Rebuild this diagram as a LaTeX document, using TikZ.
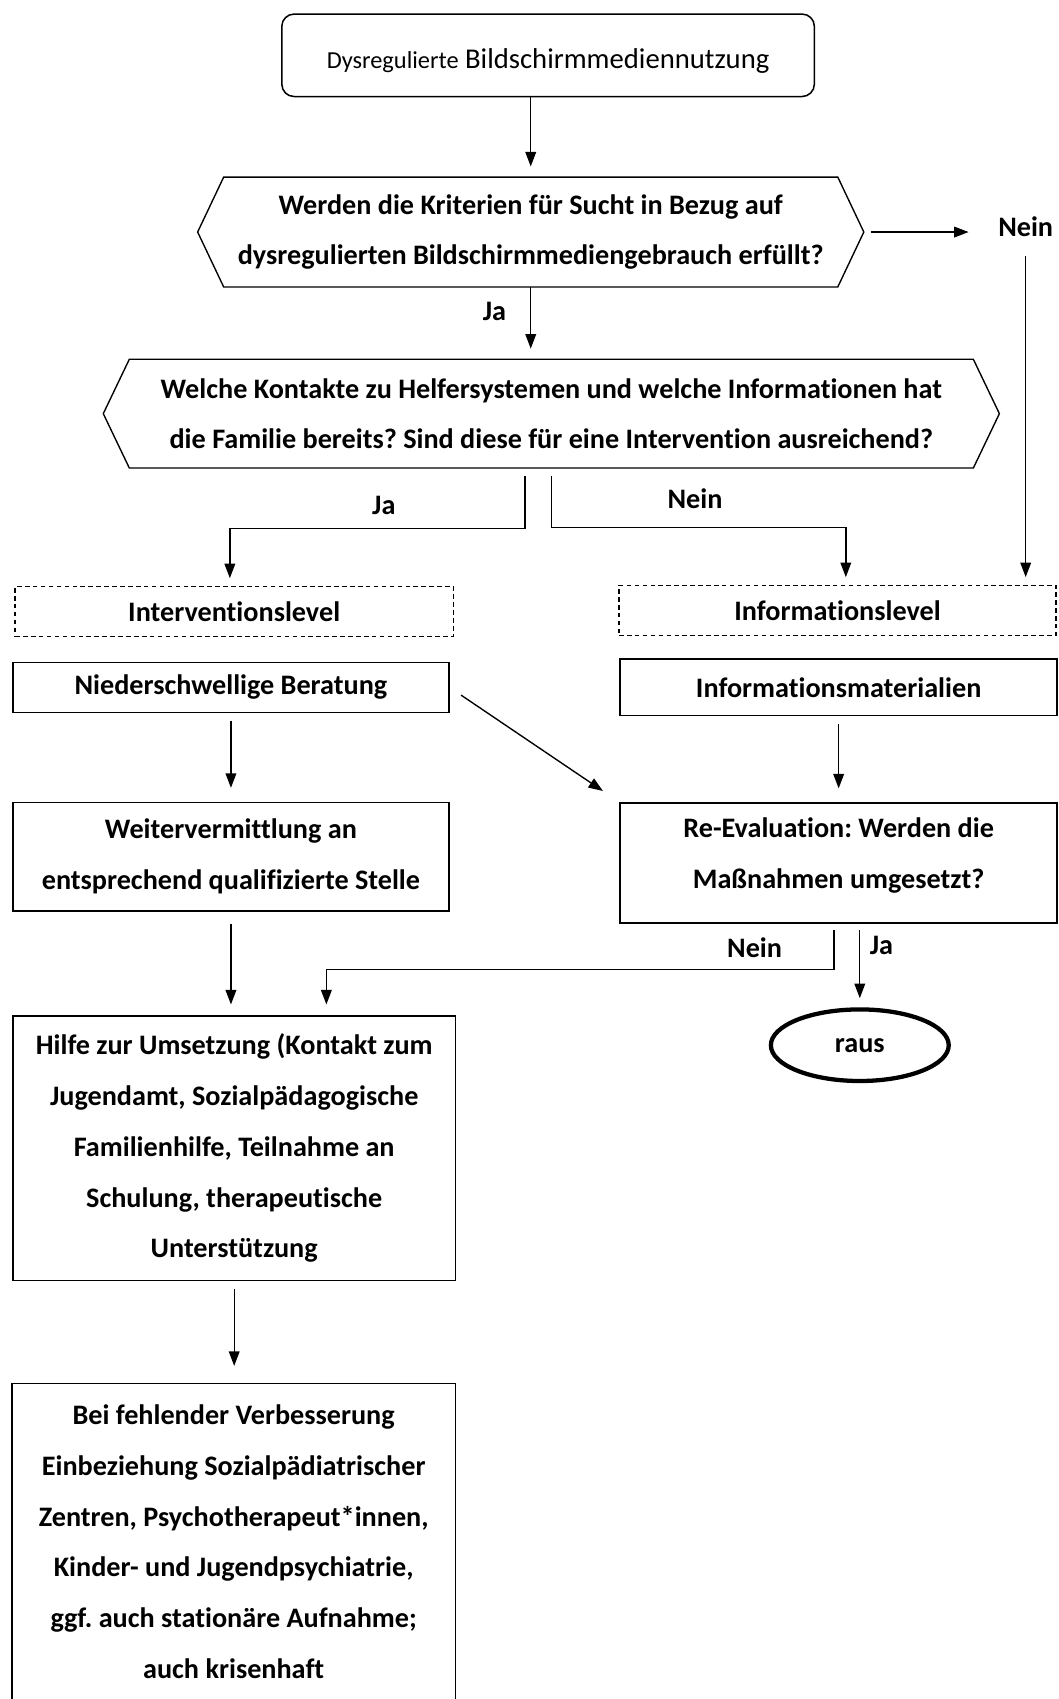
\documentclass[tikz,border=0pt]{standalone}
\usepackage{fontspec}
\setmainfont[Ligatures=NoCommon]{Carlito}
\frenchspacing
\usetikzlibrary{arrows.meta,shapes.geometric,positioning}

\begin{document}
\begin{tikzpicture}[x=0.025cm,y=-0.025cm,>={Triangle[length=9.5pt,width=7pt]},
		line width=0.9pt,font=\bfseries\fontsize{18.5}{33.3}\selectfont]
		\tikzstyle{box}=[draw,align=center,inner sep=0pt,line width=1pt]
		\tikzstyle{dashbox}=[box,dash pattern=on 3pt off 2.2pt]
		\tikzstyle{hexa}=[align=center,inner sep=0pt]
		\tikzstyle{lbl}=[inner sep=2pt]
		\tikzstyle{link}=[->,shorten <=5pt,shorten >=7pt]
		\useasboundingbox (0,0) rectangle (976,1567);
		% top
		\node[box,rounded corners=8pt,minimum width=12.275cm,minimum height=1.9cm,
			font=\mdseries\fontsize{18.8}{22}\selectfont] (start) at (505.5,51)
			{\rule{0pt}{21pt}{\fontsize{16}{22}\selectfont Dysregulierte} Bildschirmmediennutzung};
		\node[hexa,minimum width=15.325cm,minimum height=2.5cm] (q1) at (489.5,214)
			{Werden die Kriterien für Sucht in Bezug auf\\dysregulierten Bildschirmmediengebrauch erfüllt?};
		\node[hexa,minimum width=20.625cm,minimum height=2.475cm] (q2) at (508.5,381.5)
			{Welche Kontakte zu Helfersystemen und welche Informationen hat\\die Familie bereits? Sind diese für eine Intervention ausreichend?};
		\draw (q1.west) -- ([xshift=0.6cm]q1.north west) -- ([xshift=-0.6cm]q1.north east) -- (q1.east)
			-- ([xshift=-0.6cm]q1.south east) -- ([xshift=0.6cm]q1.south west) -- cycle;
		\draw (q2.west) -- ([xshift=0.6cm]q2.north west) -- ([xshift=-0.6cm]q2.north east) -- (q2.east)
			-- ([xshift=-0.6cm]q2.south east) -- ([xshift=0.6cm]q2.south west) -- cycle;
		% levels
		\node[dashbox,minimum width=10.1cm,minimum height=1.15cm] (ilvl) at (216,564) {Interventionslevel};
		\node[dashbox,minimum width=10.075cm,minimum height=1.15cm] (nlvl) at (772.5,563) {Informationslevel};
		\node[box,minimum width=10.05cm,minimum height=1.15cm] (bera) at (213,634) {Niederschwellige Beratung};
		\node[box,minimum width=10.075cm,minimum height=1.3cm] (mat) at (773.5,634) {Informationsmaterialien};
		\node[box,minimum width=10.05cm,minimum height=2.5cm] (weiter) at (213,790)
			{Weitervermittlung an\\entsprechend qualifizierte Stelle};
		\node[box,minimum width=10.075cm,minimum height=2.775cm] (reeval) at (773.5,796)
			{Re-Evaluation: Werden die\\Maßnahmen umgesetzt?\rule[-0.45cm]{0pt}{0pt}};
		\node[draw,ellipse,line width=2.8pt,minimum width=4.1cm,minimum height=1.65cm] (raus) at (793,964) {raus};
		\node[box,minimum width=10.2cm,minimum height=6.1cm] (hilfe) at (216,1059)
			{Hilfe zur Umsetzung (Kontakt zum\\Jugendamt, Sozialpädagogische\\Familienhilfe, Teilnahme an\\Schulung, therapeutische\\Unterstützung};
		\node[box,minimum width=10.225cm,minimum height=7.3cm] (bei) at (215.5,1422)
			{Bei fehlender Verbesserung\\Einbeziehung Sozialpädiatrischer\\Zentren, Psychotherapeut*innen,\\Kinder- und Jugendpsychiatrie,\\ggf. auch stationäre Aufnahme;\\auch krisenhaft};
		% labels
		\node[lbl] (ja1) at (456,287) {Ja};
		\node[lbl] (nein1) at (946,209) {Nein};
		\node[lbl] (ja2) at (354,466) {Ja};
		\node[lbl] (nein2) at (641,460) {Nein};
		\node[lbl] (nein3) at (696,874) {Nein};
		\node[lbl] (ja3) at (813,872) {Ja};
		% arrows
		\draw[link,shorten <=0pt] (start.south -| q1.north) -- (q1.north);
		\draw[link,shorten <=0pt] (q1.south) -- (q1.south |- q2.north);
		\draw[link,shorten >=17pt] (q1.east) -- (q1.east -| nein1.west);
		\draw[link,shorten <=10pt,shorten >=5pt] (nein1.south) -- (nein1.south |- nlvl.north);
		\draw[link,shorten >=5pt] ([xshift=-0.61cm]q2.south) -- ++(0,56) -| ([xshift=-0.1cm]ilvl.north);
		\draw[link,shorten >=5pt] ([xshift=0.01cm]q2.south) -- ++(0,55) -| ([xshift=0.19cm]nlvl.north);
		\draw[link,shorten >=9pt] (bera) -- (weiter);
		\draw[link,shorten <=9pt,shorten >=13pt] (bera.east) -- (reeval.north west);
		\draw[link,shorten >=9pt] (mat.south -| reeval.north) -- (reeval.north);
		\draw[link,shorten <=8pt] (weiter.south) -- (weiter.south |- hilfe.north);
		\draw[link,shorten >=11pt] (hilfe.south) -- (hilfe.south |- bei.north);
		\draw[link,shorten <=4pt] ([xshift=-0.11cm]reeval.south) -- ++(0,42) -| ([xshift=2.125cm]hilfe.north);
		\draw[link,shorten <=4pt,shorten >=6pt] (reeval.south -| raus.north) -- (raus.north);
	\end{tikzpicture}
\end{document}
